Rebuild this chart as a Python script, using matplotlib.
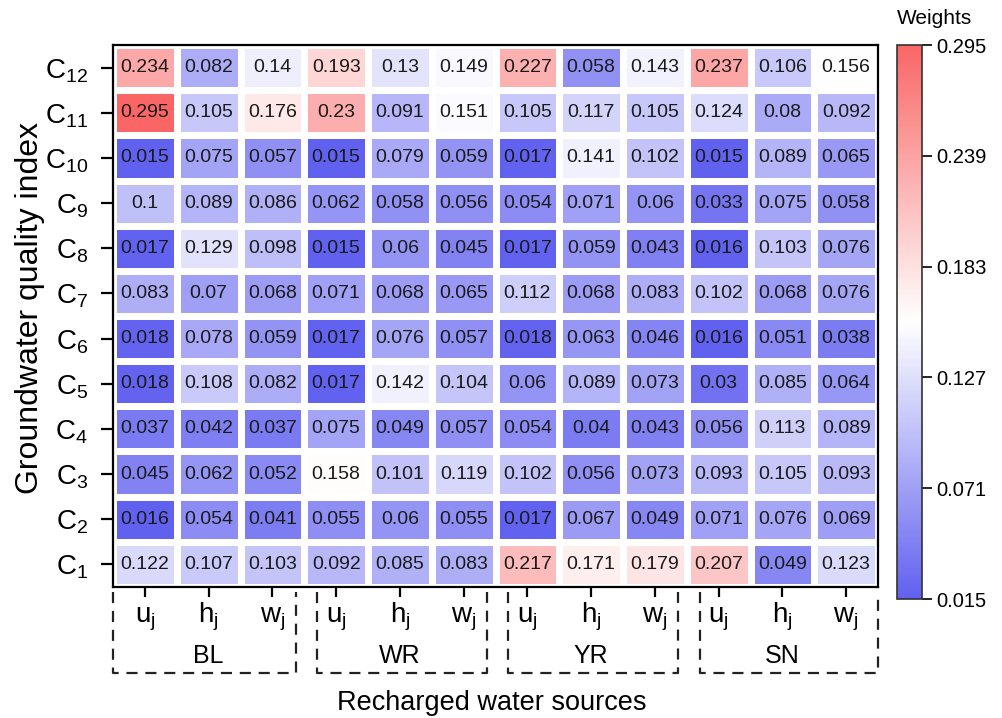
import numpy as np
import matplotlib
matplotlib.use("Agg")
import matplotlib.pyplot as plt
from matplotlib.colors import LinearSegmentedColormap, Normalize
import matplotlib.transforms as mtransforms

plt.rcParams['font.family'] = ['Liberation Sans', 'DejaVu Sans']
plt.rcParams['mathtext.fontset'] = 'custom'
plt.rcParams['mathtext.rm'] = 'Liberation Sans'
plt.rcParams['mathtext.it'] = 'Liberation Sans'

# Дані: рядки зверху вниз (C12 ... C1), стовпці BL, WR, YR, SN по (u, h, w)
row_labels = ['12', '11', '10', '9', '8', '7', '6', '5', '4', '3', '2', '1']
groups = ['BL', 'WR', 'YR', 'SN']
sub_labels = ['u', 'h', 'w']

c12 = [0.234, 0.082, 0.14, 0.193, 0.13, 0.149, 0.227, 0.058, 0.143, 0.237, 0.106, 0.156]
c11 = [0.295, 0.105, 0.176, 0.23, 0.091, 0.151, 0.105, 0.117, 0.105, 0.124, 0.08, 0.092]
c10 = [0.015, 0.075, 0.057, 0.015, 0.079, 0.059, 0.017, 0.141, 0.102, 0.015, 0.089, 0.065]
c9 = [0.1, 0.089, 0.086, 0.062, 0.058, 0.056, 0.054, 0.071, 0.06, 0.033, 0.075, 0.058]
c8 = [0.017, 0.129, 0.098, 0.015, 0.06, 0.045, 0.017, 0.059, 0.043, 0.016, 0.103, 0.076]
c7 = [0.083, 0.07, 0.068, 0.071, 0.068, 0.065, 0.112, 0.068, 0.083, 0.102, 0.068, 0.076]
c6 = [0.018, 0.078, 0.059, 0.017, 0.076, 0.057, 0.018, 0.063, 0.046, 0.016, 0.051, 0.038]
c5 = [0.018, 0.108, 0.082, 0.017, 0.142, 0.104, 0.06, 0.089, 0.073, 0.03, 0.085, 0.064]
c4 = [0.037, 0.042, 0.037, 0.075, 0.049, 0.057, 0.054, 0.04, 0.043, 0.056, 0.113, 0.089]
c3 = [0.045, 0.062, 0.052, 0.158, 0.101, 0.119, 0.102, 0.056, 0.073, 0.093, 0.105, 0.093]
c2 = [0.016, 0.054, 0.041, 0.055, 0.06, 0.055, 0.017, 0.067, 0.049, 0.071, 0.076, 0.069]
c1 = [0.122, 0.107, 0.103, 0.092, 0.085, 0.083, 0.217, 0.171, 0.179, 0.207, 0.049, 0.123]

cbar_ticks = [0.015, 0.071, 0.127, 0.183, 0.239, 0.295]

data = np.array([c12, c11, c10, c9, c8, c7, c6, c5, c4, c3, c2, c1])
n_rows, n_cols = data.shape

cmap = LinearSegmentedColormap.from_list(
    'bwr_soft', [(0.38, 0.38, 0.94), (1.0, 1.0, 1.0), (0.98, 0.40, 0.40)])
norm = Normalize(vmin=0.015, vmax=0.295)

fig = plt.figure(figsize=(10.03, 7.18), dpi=100)
ax = fig.add_axes([0.1127, 0.1825, 0.7627, 0.7548])
cax = fig.add_axes([0.8943, 0.1657, 0.0249, 0.7716])

mesh = ax.pcolormesh(np.arange(n_cols + 1), np.arange(n_rows + 1), data,
                     cmap=cmap, norm=norm, edgecolors='white', linewidth=4.8)
ax.set_xlim(0, n_cols)
ax.set_ylim(n_rows, 0)

# Підписи значень у клітинках
for i in range(n_rows):
    for j in range(n_cols):
        ax.text(j + 0.5, i + 0.5, f'{data[i, j]:g}', ha='center', va='center',
                fontsize=14, color='#1a1a1a')

# Осі
for s in ax.spines.values():
    s.set_linewidth(1.6)
ax.set_yticks(np.arange(n_rows) + 0.5)
ax.set_yticklabels([r'$\mathregular{C_{%s}}$' % r for r in row_labels], fontsize=20)
ax.tick_params(axis='y', length=9, width=1.6, pad=9)

ax.set_xticks(np.arange(n_cols) + 0.5)
ax.set_xticklabels([])
ax.tick_params(axis='x', length=7, width=1.6)

trans = mtransforms.blended_transform_factory(ax.transData, ax.transAxes)
x_labels = [s for _ in groups for s in sub_labels]
for j, s in enumerate(x_labels):
    ax.text(j + 0.5, -0.066, r'$\mathregular{%s_j}$' % s, transform=trans,
            ha='center', va='baseline', fontsize=20)

# Пунктирні рамки груп
y_top, y_bot = -0.01, -0.158
for g, name in enumerate(groups):
    left = 3 * g + (0.2 if g else 0.0)
    right = 3 * g + 3 - (0.13 if g < len(groups) - 1 else 0.0)
    ax.plot([left, left, right, right], [y_top, y_bot, y_bot, y_top], transform=trans,
            color='#222222', lw=1.6, ls=(0, (5, 3.5)), clip_on=False)
    ax.text(3 * g + 1.5, -0.140, name, transform=trans, ha='center', va='baseline',
            fontsize=18)

fig.text(0.49, 1 - 703 / 718, 'Recharged water sources', ha='center', va='center',
         fontsize=19.5)
fig.text(0.03, 1 - 308 / 718, 'Groundwater quality index', ha='center', va='center',
         rotation=90, fontsize=23)

# Шкала кольорів
cb = fig.colorbar(mesh, cax=cax, ticks=cbar_ticks)
cb.ax.set_yticklabels([f'{t:.3f}' for t in cbar_ticks])
cb.ax.tick_params(labelsize=14.5, length=7, width=1.2)
cb.outline.set_linewidth(1.2)
cb.outline.set_edgecolor('#333333')
fig.text(0.932, 1 - 18 / 718, 'Weights', ha='center', va='center', fontsize=15)

fig.savefig('out.png', dpi=100)
